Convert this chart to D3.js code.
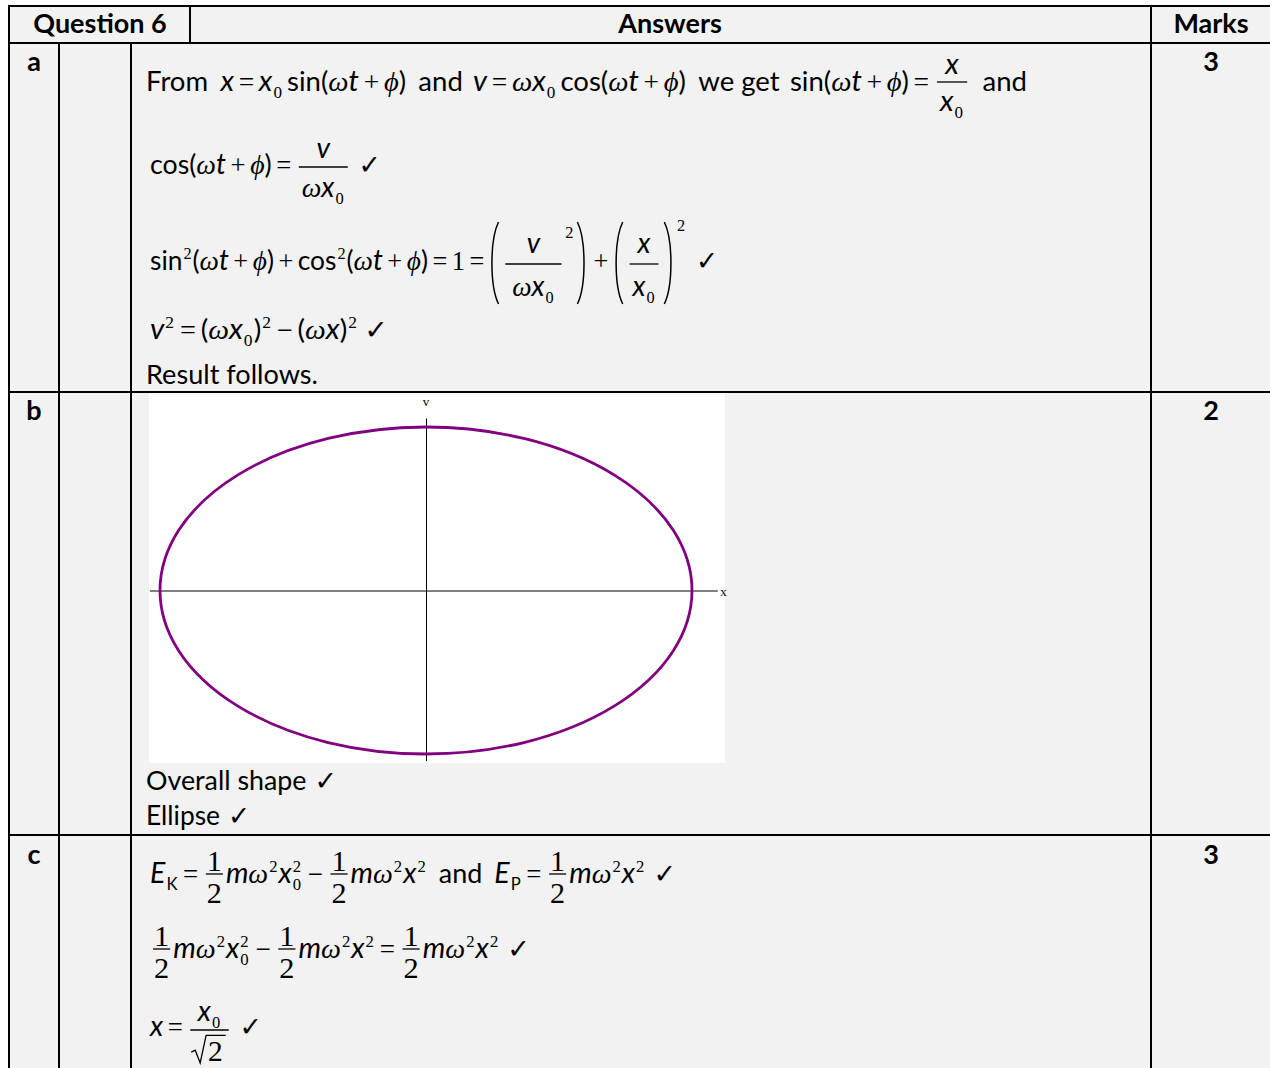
<!DOCTYPE html>
<html><head><meta charset="utf-8">
<script src="https://cdn.jsdelivr.net/npm/d3@7"></script>
<style>html,body{margin:0;padding:0;background:#fff}</style>
</head><body>
<svg id="c" width="1270" height="1068"></svg>
<script>
// ---------- data ----------
const headers = ["Question 6", "Answers", "Marks"];
const parts = ["a", "b", "c"];
const marks = [3, 2, 3];
const ellipseAmplitude = [1, 1];        // [x0, ωx0] in plot units
const xDomain = [-1, 1];
const vDomain = [-1, 1];
const xAxisExtent = [-1.04, 1.095];
const vAxisExtent = [-1.04, 1.055];
const axisLabels = ["x", "v"];
const partBNotes = ["Overall shape", "Ellipse"];
const resultText = "Result follows.";

// ---------- fonts / tokens ----------
const SANS = "Lato, 'Open Sans', sans-serif";
const SERIF = "'Liberation Serif', 'Times New Roman', 'DejaVu Serif', serif";
const SYM = "'DejaVu Sans', sans-serif";
const PHI = "\u03D5";
const BASE = 27;

const tok = (s, fam, it, e) => Object.assign({k: "t", s, fam, it}, e || {});
const T = (s, e) => tok(s, SANS, false, e);
const V = (s, e) => tok(s, SANS, true, Object.assign({sc: 1.06}, e || {}));
const G = (s, e) => tok(s, SERIF, true, Object.assign({sc: 1.04}, e || {}));
const N = (s, e) => tok(s, SERIF, false, e);
const O = s => ({k: "op", s});
const S = w => ({k: "sp", w});
const sup = (...c) => ({k: "scr", c, dy: -0.42, sc: 0.62});
const sub = (...c) => ({k: "scr", c, dy: 0.27, sc: 0.62});
const scr = (c, dy) => ({k: "scr", c, dy, sc: 0.62});
const subsup = (b, p) => ({k: "ss", b, p});
const F = (num, den, o) => ({k: "fr", num, den, o: o || {}});
const P = (c, o) => ({k: "par", c, o});
const SQ = c => ({k: "sq", c});
const CK = {k: "ck"};

const wt = () => [G("\u03C9"), V("t"), O("+"), G(PHI)];
const half = () => F([N("1")], [N("2")], {sc: 1.12, axis: 9, nb: 3, db: 29, pad: 2});
const mw2x2 = () => [V("m"), G("\u03C9"), sup(N("2")), V("x"), sup(N("2"))];
const mw2x02 = () => [V("m"), G("\u03C9"), sup(N("2")), V("x"), subsup([N("0")], [N("2")])];

const lineA1 = [T("From"), S(12), V("x"), O("="), V("x"), sub(N("0")), S(4), T("sin("), ...wt(), T(")"), S(12),
  T("and"), S(10), V("v"), O("="), G("\u03C9"), V("x"), sub(N("0")), S(4), T("cos("), ...wt(), T(")"), S(12),
  T("we get"), S(10), T("sin("), ...wt(), T(")"), O("="),
  F([V("x")], [V("x"), sub(N("0"))], {axis: 9, nb: 8, db: 29}), S(12), T("and")];
const lineA2 = [T("cos("), ...wt(), T(")"), O("="),
  F([V("v")], [G("\u03C9"), V("x"), sub(N("0"))], {axis: 7, nb: 9, db: 30}), S(8), CK];
const lineA3 = [T("sin"), sup(N("2")), T("("), ...wt(), T(")"), O("+"), T("cos"), sup(N("2")), T("("), ...wt(), T(")"),
  O("="), N("1"), O("="),
  P([F([V("v")], [G("\u03C9"), V("x"), sub(N("0"))], {axis: 6, nb: 11, db: 32, pad: 14}), scr([N("2")], -1.19)], {top: -48, bot: 34}),
  O("+"),
  P([F([V("x")], [V("x"), sub(N("0"))], {axis: 6, nb: 11, db: 32})], {top: -48, bot: 34}),
  scr([N("2")], -1.44), S(10), CK];
const lineA4 = [V("v"), sup(N("2")), O("="), T("("), G("\u03C9"), V("x"), sub(N("0")), T(")"), sup(N("2")),
  O("\u2212"), T("("), G("\u03C9"), V("x"), T(")"), sup(N("2")), S(6), CK];
const lineC1 = [V("E"), sub(T("K")), O("="), half(), ...mw2x02(), O("\u2212"), half(), ...mw2x2(), S(12),
  T("and"), S(12), V("E"), sub(T("P")), O("="), half(), ...mw2x2(), S(8), CK];
const lineC2 = [half(), ...mw2x02(), O("\u2212"), half(), ...mw2x2(), O("="), half(), ...mw2x2(), S(8), CK];
const lineC3 = [V("x"), O("="), F([V("x"), sub(N("0"))], [SQ([N("2", {sc: 1.1})])], {axis: 6, nb: 9, db: 31, pad: 2}), S(8), CK];

// ---------- rendering engine ----------
const svg = d3.select("#c");

function put(g, s, x, y, size, fam, it, weight) {
  const t = g.append("text").attr("x", x).attr("y", y)
    .style("font-family", fam).style("font-size", size + "px").style("font-style", it ? "italic" : "normal")
    .attr("fill", "#000").text(s);
  if (weight) t.style("font-weight", weight);
  return t.node().getComputedTextLength();
}
function stroke(sel, w) {
  return sel.attr("fill", "none").attr("stroke", "#000").attr("stroke-width", w).attr("vector-effect", "non-scaling-stroke");
}
function render(g, toks, x, y, size) {
  const x0 = x;
  for (const t of toks) {
    switch (t.k) {
      case "t": x += put(g, t.s, x, y + (t.dy || 0) * size, size * (t.sc || 1), t.fam, t.it); break;
      case "op": x += size * 0.17; x += put(g, t.s, x, y, size, SERIF, false); x += size * 0.17; break;
      case "sp": x += t.w; break;
      case "scr": x += render(g, t.c, x + 1, y + t.dy * size, size * t.sc) + 2; break;
      case "ss": {
        const w1 = render(g, t.b, x + 1, y + 0.27 * size, size * 0.62);
        const w2 = render(g, t.p, x + 1, y - 0.42 * size, size * 0.62);
        x += Math.max(w1, w2) + 3; break;
      }
      case "fr": {
        const o = t.o, fs = size * (o.sc || 1);
        const bar = y - (o.axis ?? 8);
        const gn = g.append("g"), gd = g.append("g");
        const wn = render(gn, t.num, 0, bar - (o.nb ?? 9), fs);
        const wd = render(gd, t.den, 0, bar + (o.db ?? 30), fs);
        const W = Math.max(wn, wd) + (o.pad ?? 6), pl = 3;
        gn.attr("transform", `translate(${x + pl + (W - wn) / 2},0)`);
        gd.attr("transform", `translate(${x + pl + (W - wd) / 2},0)`);
        stroke(g.append("line").attr("x1", x + pl).attr("x2", x + pl + W).attr("y1", bar).attr("y2", bar), 1.3);
        x += W + 2 * pl; break;
      }
      case "par": {
        const top = y + t.o.top, bot = y + t.o.bot, h = bot - top, w = 10;
        stroke(g.append("path").attr("d", `M${x + w},${top}C${x + 1},${top + h * 0.22} ${x + 1},${bot - h * 0.22} ${x + w},${bot}`), 1.5);
        x += w + 4;
        x += render(g, t.c, x, y, size);
        x += 3;
        stroke(g.append("path").attr("d", `M${x},${top}C${x + w - 1},${top + h * 0.22} ${x + w - 1},${bot - h * 0.22} ${x},${bot}`), 1.5);
        x += w + 2; break;
      }
      case "sq": {
        const gi = g.append("g");
        const wi = render(gi, t.c, 0, y, size);
        const top = y - size * 0.95, lw = 15;
        gi.attr("transform", `translate(${x + lw + 2},0)`);
        stroke(g.append("path").attr("d",
          `M${x},${y - size * 0.33}L${x + 4},${y - size * 0.4}L${x + 9},${y + 2}L${x + lw},${top}L${x + lw + wi + 5},${top}`), 1.3);
        x += lw + wi + 7; break;
      }
      case "ck": x += put(g, "\u2713", x, y, size * 1.0, SYM, false, 700); break;
    }
  }
  return x - x0;
}
function line(toks, x0, x1, y, size) {
  const inner = svg.append("g");
  const w = render(inner, toks, 0, y, size);
  inner.attr("transform", `translate(${x0},0) scale(${(x1 - x0) / w},1)`);
}

// ---------- table ----------
svg.append("rect").attr("x", 9).attr("y", 6).attr("width", 1261).attr("height", 1062).attr("fill", "#f2f2f2");

const gridLines = [
  [9, 5, 9, 1068], [59, 43, 59, 1068], [131, 43, 131, 1068], [190, 5, 190, 43], [1151, 5, 1151, 1068],
  [8, 6, 1270, 6], [8, 43, 1270, 43], [8, 392, 1270, 392], [8, 835, 1270, 835]
];

// plot area of part b
svg.append("rect").attr("x", 149).attr("y", 393).attr("width", 576).attr("height", 370).attr("fill", "#fff");

const xs = d3.scaleLinear().domain(xDomain).range([160, 692]);
const vs = d3.scaleLinear().domain(vDomain).range([754, 427]);

const xAxisScale = d3.scaleLinear().domain(xAxisExtent).range(xAxisExtent.map(xs));
const vAxisScale = d3.scaleLinear().domain(vAxisExtent).range(vAxisExtent.map(vs));
const gx = svg.append("g").attr("transform", `translate(0,${vs(0)})`)
  .call(d3.axisBottom(xAxisScale).tickValues([]).tickSizeOuter(0));
const gv = svg.append("g").attr("transform", `translate(${xs(0)},0)`)
  .call(d3.axisLeft(vAxisScale).tickValues([]).tickSizeOuter(0));
[gx, gv].forEach(g => g.select(".domain").attr("stroke", "#000").attr("stroke-width", 1));

svg.append("text").attr("x", xs(xAxisExtent[1]) + 3).attr("y", vs(0) + 5).style("font-family", SERIF)
  .style("font-size", "13px").text(axisLabels[0]);
svg.append("text").attr("x", xs(0)).attr("y", vs(vAxisExtent[1]) - 12).attr("text-anchor", "middle")
  .style("font-family", SERIF).style("font-size", "13px").text(axisLabels[1]);

svg.selectAll("ellipse.orbit").data([ellipseAmplitude]).join("ellipse").attr("class", "orbit")
  .attr("cx", xs(0)).attr("cy", vs(0))
  .attr("rx", d => xs(d[0]) - xs(0)).attr("ry", d => vs(0) - vs(d[1]))
  .attr("fill", "none").attr("stroke", "#800080").attr("stroke-width", 2.8);

svg.selectAll("line.grid").data(gridLines).join("line").attr("class", "grid")
  .attr("x1", d => d[0]).attr("y1", d => d[1]).attr("x2", d => d[2]).attr("y2", d => d[3])
  .attr("stroke", "#000").attr("stroke-width", 2).attr("shape-rendering", "crispEdges");

// headers
const headerX = [100, 670, 1211];
svg.selectAll("text.hdr").data(headers).join("text").attr("class", "hdr")
  .attr("x", (d, i) => headerX[i]).attr("y", 33).attr("text-anchor", "middle")
  .style("font-family", SANS).style("font-weight", 700).style("font-size", "27px").text(d => d);

const rowY = [71, 420, 864];
svg.selectAll("text.part").data(parts).join("text").attr("class", "part")
  .attr("x", 34).attr("y", (d, i) => rowY[i]).attr("text-anchor", "middle")
  .style("font-family", SANS).style("font-weight", 700).style("font-size", "27px").text(d => d);
svg.selectAll("text.mark").data(marks).join("text").attr("class", "mark")
  .attr("x", 1211).attr("y", (d, i) => rowY[i]).attr("text-anchor", "middle")
  .style("font-family", SANS).style("font-weight", 700).style("font-size", "27px").text(d => d);

// part a
line(lineA1, 146, 1027, 91, BASE);
line(lineA2, 150, 381, 174, BASE);
line(lineA3, 150, 718, 270, BASE);
line(lineA4, 150, 388, 339, BASE);
line([T(resultText)], 146, 318, 384, BASE);
// part b
line([T(partBNotes[0]), S(8), CK], 146, 337, 790, BASE);
line([T(partBNotes[1]), S(8), CK], 146, 250, 825, BASE);
// part c
line(lineC1, 150, 676, 883, BASE);
line(lineC2, 150, 530, 958, BASE);
line(lineC3, 150, 262, 1036, BASE);
</script>
</body></html>
